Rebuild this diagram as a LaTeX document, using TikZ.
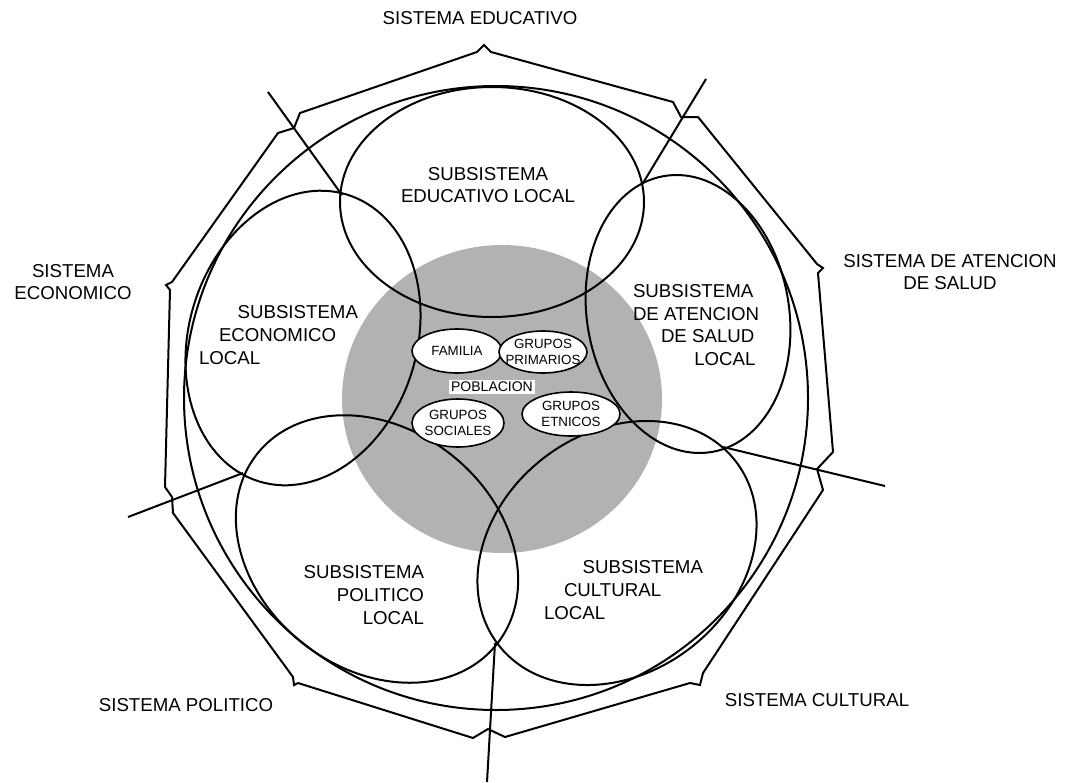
\documentclass[tikz,border=0pt]{standalone}
\usepackage{fontspec}
\setmainfont{Liberation Sans}
\begin{document}
\begin{tikzpicture}[x=0.75pt, y=-0.75pt, line width=1.5pt,
    every node/.style={font=\fontsize{14}{17}\selectfont, inner sep=0pt},
    sys/.style={align=center},
    grp/.style={align=center, font=\fontsize{10}{12.5}\selectfont}]
  \useasboundingbox (0,0) rectangle (1078,782);
  % poblacion (nucleo sombreado)
  \fill[black!30] (502,399) ellipse [x radius=160, y radius=154];
  % sistema global y sus cinco sistemas
  \draw (496,398) circle [radius=312];
  \draw (477,52) -- (484,45) -- (491,52) -- (673,102) -- (681,117) -- (698,117)
    -- (817,264) -- (823,268) -- (818,273) -- (833,452) -- (817,469) -- (823,490)
    -- (703,673) -- (700,685) -- (690,683) -- (505,737) -- (488,729) -- (473,738)
    -- (298,683) -- (294,685) -- (293,677) -- (173,513) -- (172,497) -- (165,487)
    -- (170,290) -- (166,285) -- (172,282) -- (278,133) -- (294,128) -- (300,113) -- cycle;
  % subsistemas locales
  \foreach \x/\y/\a/\b/\r in {492/202/152/115/0, 303/338/150/114/73, 688/314/140/101/100,
                             377/549/153/120/-38.5, 617/553/150/120/37.7}
    \draw[rotate around={\r:(\x,\y)}] (\x,\y) ellipse [x radius=\a, y radius=\b];
  % lineas divisorias
  \foreach \n/\ix/\iy/\ox/\oy in {a/342/195/268/92, b/643/183/706/79, c/723/447/885/486,
                                  d/495/643/487/782, e/243/473/128/517} {
    \coordinate (in\n) at (\ix,\iy);
    \coordinate (out\n) at (\ox,\oy);
    \draw (in\n) -- (out\n);
  }
  % grupos dentro de la poblacion
  \foreach \x/\y/\a/\b/\n/\t in {457/351/45/22/familia/FAMILIA, 543/352/44/21/primarios/{GRUPOS\\PRIMARIOS},
                                 458/423/46/24/sociales/{GRUPOS\\SOCIALES}, 571/414/49/22/etnicos/{GRUPOS\\ETNICOS}} {
    \draw[fill=white, line width=1.2pt] (\x,\y) ellipse [x radius=\a, y radius=\b];
    \node[grp] (\n) at (\x,\y) {\t};
  }
  \node[fill=white, inner sep=1.5pt, font=\fontsize{10.5}{12}\selectfont] (poblacion) at (492,387) {POBLACION};
  % rotulos
  \node[align=center] (subEduc) at (488,185) {SUBSISTEMA\\EDUCATIVO LOCAL};
  \node[align=left, anchor=west] (subEcon) at (198,335) {\hspace*{29pt}SUBSISTEMA\\\hspace*{15pt}ECONOMICO\\LOCAL};
  \node[align=left, anchor=west] (subSalud) at (632,325) {SUBSISTEMA\\DE ATENCION\\\hspace*{21pt}DE SALUD\\\hspace*{46pt}LOCAL};
  \node[align=right, anchor=east] (subPolit) at (425,595) {SUBSISTEMA\\POLITICO\\LOCAL};
  \node[align=left, anchor=west] (subCult) at (543,590) {\hspace*{29pt}SUBSISTEMA\\\hspace*{15pt}CULTURAL\\LOCAL};
  \node[sys] (sisEduc) at (480,18) {SISTEMA EDUCATIVO};
  \node[sys] (sisEcon) at (73,282) {SISTEMA\\ECONOMICO};
  \node[sys] (sisSalud) at (950,272) {SISTEMA DE ATENCION\\DE SALUD};
  \node[sys] (sisPolit) at (186,705) {SISTEMA POLITICO};
  \node[sys] (sisCult) at (817,700) {SISTEMA CULTURAL};
\end{tikzpicture}
\end{document}
